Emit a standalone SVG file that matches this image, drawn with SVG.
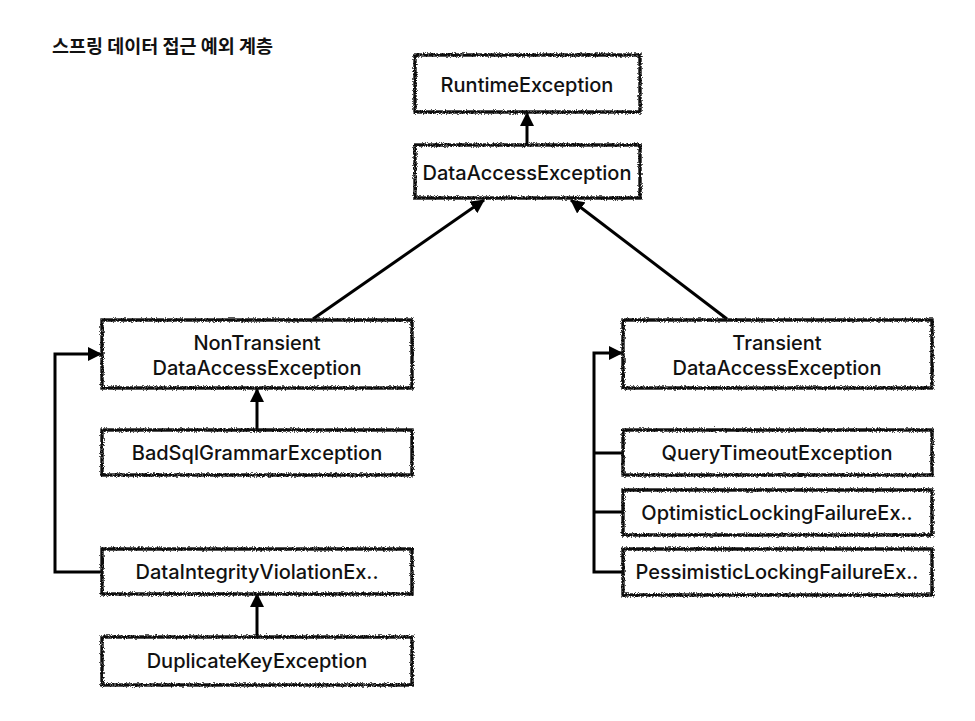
<svg xmlns="http://www.w3.org/2000/svg" width="975" height="721" viewBox="0 0 975 721">
<defs>
<filter id="rough" x="-5%" y="-20%" width="110%" height="140%">
<feTurbulence type="fractalNoise" baseFrequency="1.1" numOctaves="2" seed="3" result="n"/>
<feDisplacementMap in="SourceGraphic" in2="n" scale="4" xChannelSelector="R" yChannelSelector="G"/>
</filter>
<marker id="ah" markerUnits="userSpaceOnUse" markerWidth="14" markerHeight="14" viewBox="0 0 14 14" refX="13" refY="7" orient="auto">
<path d="M0,0 L14,7 L0,14 Z" fill="#000"/>
</marker>
</defs>
<style>
.box{fill:#fff;stroke:#111;stroke-width:3.4;filter:url(#rough)}
.lbl{font-family:Inter,"Liberation Sans",Arial,sans-serif;font-size:20px;font-weight:500;fill:#111;text-anchor:middle}
.title{font-family:"Noto Sans CJK KR",sans-serif;font-size:18.5px;font-weight:bold;fill:#111}
.ln{fill:none;stroke:#000;stroke-width:3}
</style>
<rect width="975" height="721" fill="#fff"/>
<text class="title" x="52" y="53">스프링 데이터 접근 예외 계층</text>

<g id="connectors">
<path class="ln" d="M527,145 L527,113" marker-end="url(#ah)"/>
<path class="ln" d="M313,319 L484,200" marker-end="url(#ah)"/>
<path class="ln" d="M727,319 L571,200" marker-end="url(#ah)"/>
<path class="ln" d="M257,430 L257,389" marker-end="url(#ah)"/>
<path class="ln" d="M257,637 L257,594" marker-end="url(#ah)"/>
<path class="ln" d="M102,572 L55,572 L55,354 L101,354" marker-end="url(#ah)"/>
<path class="ln" d="M623,572 L594,572 L594,353 L622,353" marker-end="url(#ah)"/>
<path class="ln" d="M594,453 L623,453 M594,512 L623,512"/>
</g>

<g id="runtime"><rect class="box" x="415" y="55" width="225" height="57"/><text class="lbl" x="527" y="92">RuntimeException</text></g>
<g id="dataaccess"><rect class="box" x="415" y="145" width="225" height="53"/><text class="lbl" x="527" y="180">DataAccessException</text></g>

<g id="nontransient"><rect class="box" x="102" y="320" width="310" height="68"/><text class="lbl" x="257" y="350">NonTransient</text><text class="lbl" x="257" y="375">DataAccessException</text></g>
<g id="badsql"><rect class="box" x="102" y="430" width="310" height="45"/><text class="lbl" x="257" y="460">BadSqlGrammarException</text></g>
<g id="dataintegrity"><rect class="box" x="102" y="549" width="310" height="45"/><text class="lbl" x="257" y="579">DataIntegrityViolationEx..</text></g>
<g id="duplicatekey"><rect class="box" x="102" y="637" width="310" height="48"/><text class="lbl" x="257" y="668">DuplicateKeyException</text></g>

<g id="transient"><rect class="box" x="623" y="320" width="309" height="68"/><text class="lbl" x="777" y="350">Transient</text><text class="lbl" x="777" y="375">DataAccessException</text></g>
<g id="querytimeout"><rect class="box" x="623" y="430" width="309" height="45"/><text class="lbl" x="777" y="460">QueryTimeoutException</text></g>
<g id="optimistic"><rect class="box" x="623" y="490" width="309" height="45"/><text class="lbl" x="777" y="520">OptimisticLockingFailureEx..</text></g>
<g id="pessimistic"><rect class="box" x="623" y="549" width="309" height="46"/><text class="lbl" x="777" y="579">PessimisticLockingFailureEx..</text></g>
</svg>
